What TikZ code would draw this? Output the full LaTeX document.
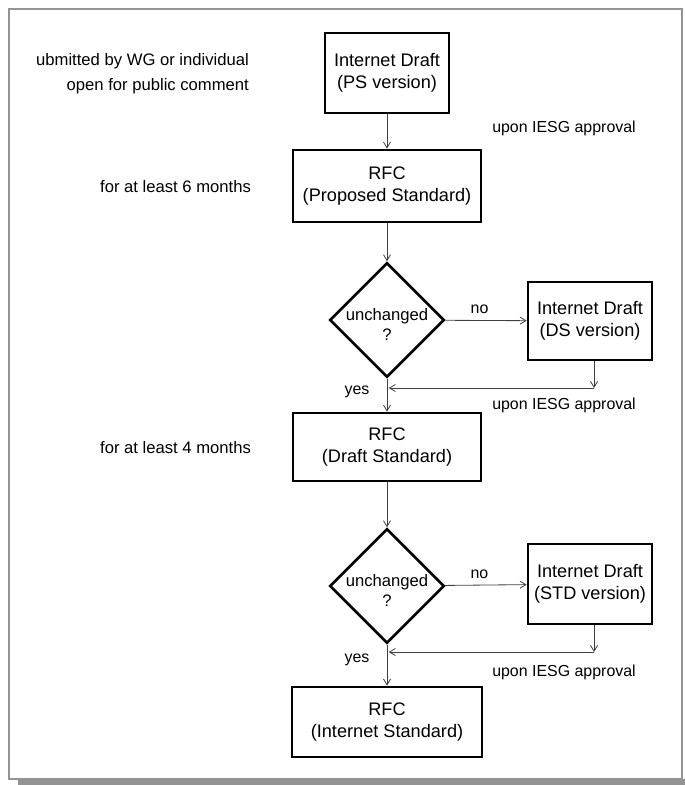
\documentclass[tikz,border=0pt]{standalone}
\usepackage{fontspec}
\setmainfont{Liberation Sans}
\usetikzlibrary{arrows.meta,shapes.geometric}
\def\boxfont{\fontsize{15.5}{19}\selectfont}
\def\notefont{\fontsize{14.2}{17}\selectfont}
\def\tagfont{\fontsize{13.6}{16}\selectfont}
\def\flow{\draw[-{Straight Barb[length=5pt,width=6pt]},line width=0.7pt,black!75]}
\def\askme{\raisebox{-9pt}[0pt][0pt]{\begin{tabular}{@{}c@{}}unchanged\\?\end{tabular}}}

\begin{document}
\begin{tikzpicture}[x=0.03cm,y=-0.03cm,every node/.style={font=\notefont},
    stagebox/.style={draw,line width=2.3pt,align=center,inner sep=0pt,font=\boxfont},
    check/.style={draw,diamond,line width=2.3pt,inner sep=0pt,minimum width=3.44cm,minimum height=3.44cm},
    tag/.style={font=\tagfont,text=black}]
  \useasboundingbox (0,0) rectangle (685,785);
  % frame
  \fill[gray!85] (18,779) rectangle (685,785);
  \draw[gray!85,line width=1.6pt] (9,9) rectangle (682,779);

  % stages
  \node[stagebox,minimum width=3.72cm,minimum height=2.4cm] (ps) at (387,73) {Internet Draft\\(PS version)};
  \node[stagebox,minimum width=5.64cm,minimum height=2.16cm] (rfcps) at (387,186) {RFC\\(Proposed Standard)};
  \node[check] (q1) at (387,320) {\askme};
  \node[stagebox,minimum width=3.72cm,minimum height=2.34cm] (ds) at (590,321) {Internet Draft\\(DS version)};
  \node[stagebox,minimum width=5.64cm,minimum height=2.04cm] (rfcds) at (387,447) {RFC\\(Draft Standard)};
  \node[check] (q2) at (387,586) {\askme};
  \node[stagebox,minimum width=3.72cm,minimum height=2.4cm] (std) at (590,584) {Internet Draft\\(STD version)};
  \node[stagebox,minimum width=5.7cm,minimum height=2.1cm] (rfcis) at (387,722) {RFC\\(Internet Standard)};

  % notes
  \node[anchor=east] (sub) at (253,61) {ubmitted by WG or individual};
  \node[anchor=east] (open) at (253,86) {open for public comment};
  \node[anchor=east] (six) at (255,187) {for at least 6 months};
  \node[anchor=east] (four) at (255,448) {for at least 4 months};
  \node[tag] (appr1) at (564,128) {upon IESG approval};
  \node[tag] (appr2) at (564,405) {upon IESG approval};
  \node[tag] (appr3) at (564,672) {upon IESG approval};

  \coordinate (m1) at (594,388);
  \coordinate (m2) at (594,652);

  % flow
  \flow (ps) -- (rfcps);
  \flow (rfcps) -- (q1);
  \flow (q1) -- node[tag,pos=0.42,above=2pt] (no1) {no} (ds);
  \flow (ds.south -| m1) -- (m1);
  \flow (m1) -- ([xshift=1.5pt]m1 -| q1.south);
  \flow (q1) -- node[tag,pos=0.4,left=0.4cm] (yes1) {yes} (rfcds);
  \flow (rfcds) -- (q2);
  \flow (q2) -- node[tag,pos=0.42,above=2pt] (no2) {no} (std);
  \flow (std.south -| m2) -- (m2);
  \flow (m2) -- ([xshift=1.5pt]m2 -| q2.south);
  \flow (q2) -- node[tag,pos=0.38,left=0.4cm] (yes2) {yes} (rfcis);
\end{tikzpicture}
\end{document}
